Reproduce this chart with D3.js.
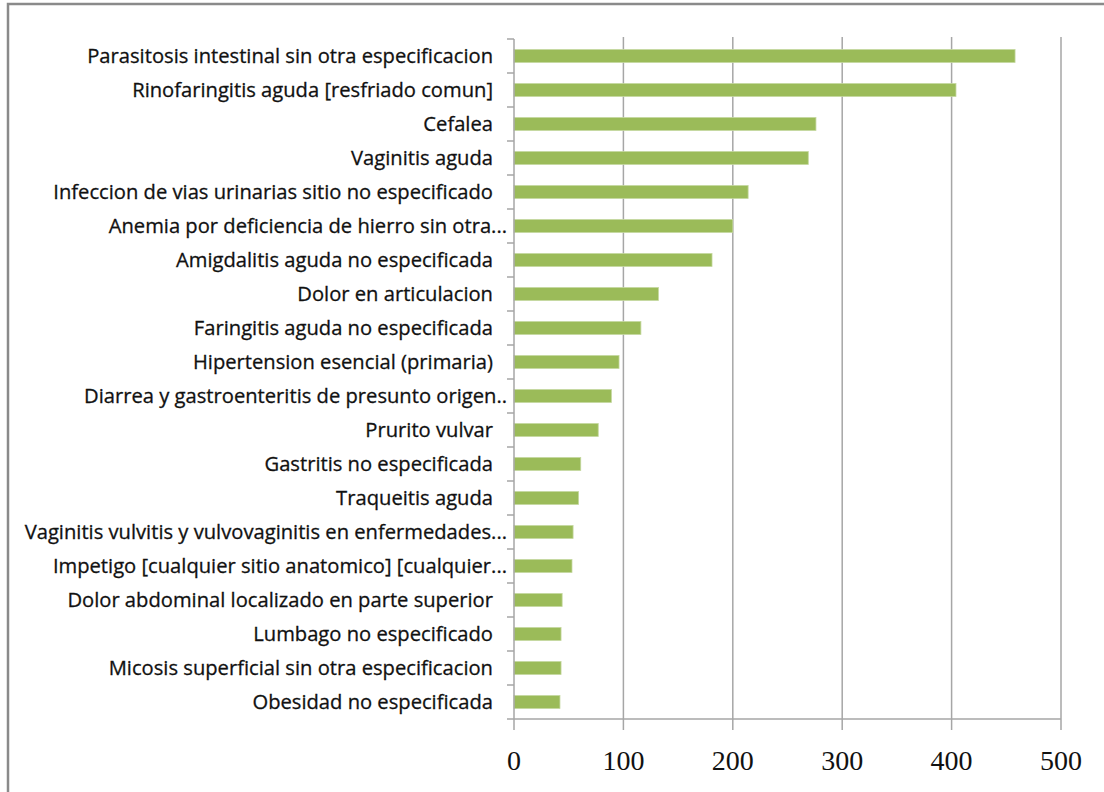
<!DOCTYPE html>
<html>
<head>
<meta charset="utf-8">
<script src="https://cdn.jsdelivr.net/npm/d3@7"></script>
<style>
  body { margin: 0; background: #fff; }
  svg { display: block; }
</style>
</head>
<body>
<div id="chart"></div>
<script>
const categories = [
  "Parasitosis intestinal sin otra especificacion",
  "Rinofaringitis aguda [resfriado comun]",
  "Cefalea",
  "Vaginitis aguda",
  "Infeccion de vias urinarias sitio no especificado",
  "Anemia por deficiencia de hierro sin otra...",
  "Amigdalitis aguda no especificada",
  "Dolor en articulacion",
  "Faringitis aguda no especificada",
  "Hipertension esencial (primaria)",
  "Diarrea y gastroenteritis de presunto origen..",
  "Prurito vulvar",
  "Gastritis no especificada",
  "Traqueitis aguda",
  "Vaginitis vulvitis y vulvovaginitis en enfermedades...",
  "Impetigo [cualquier sitio anatomico] [cualquier...",
  "Dolor abdominal localizado en parte superior",
  "Lumbago no especificado",
  "Micosis superficial sin otra especificacion",
  "Obesidad no especificada"
];

const values = [458, 404, 276, 269, 214, 200, 181, 132, 116, 96, 89, 77, 61, 59, 54, 53, 44, 43, 43, 42];

const xTicks = [0, 100, 200, 300, 400, 500];

const width = 1104, height = 792;
const margin = { top: 39, right: 43, bottom: 73, left: 514 };

const svg = d3.select("#chart").append("svg")
  .attr("width", width)
  .attr("height", height);

// outer frame
svg.append("rect")
  .attr("x", 8).attr("y", 4)
  .attr("width", width + 20).attr("height", height + 20)
  .attr("fill", "none")
  .attr("stroke", "#8a8a8a")
  .attr("stroke-width", 2.5);

const x = d3.scaleLinear()
  .domain([0, 500])
  .range([margin.left, width - margin.right]);

const y = d3.scaleBand()
  .domain(categories)
  .range([margin.top, height - margin.bottom]);

const gridColor = "#a6a6a6";

// vertical gridlines
svg.append("g")
  .selectAll("line")
  .data(xTicks.slice(1))
  .join("line")
    .attr("x1", d => x(d)).attr("x2", d => x(d))
    .attr("y1", margin.top - 2).attr("y2", height - margin.bottom)
    .attr("stroke", gridColor)
    .attr("stroke-width", 1.5);

// bars
const barH = y.bandwidth() * 0.38;
svg.append("g")
  .selectAll("rect")
  .data(values)
  .join("rect")
    .attr("x", x(0))
    .attr("y", (d, i) => y(categories[i]) + (y.bandwidth() - barH) / 2)
    .attr("width", d => x(d) - x(0))
    .attr("height", barH)
    .attr("fill", "#9bbb59")
    .attr("stroke", "#c4d79e")
    .attr("stroke-width", 0.8);

// category axis line and tick marks
const yAxis = svg.append("g");
yAxis.append("line")
  .attr("x1", x(0)).attr("x2", x(0))
  .attr("y1", margin.top).attr("y2", height - margin.bottom)
  .attr("stroke", gridColor).attr("stroke-width", 1.5);
yAxis.selectAll("line.tick")
  .data(categories.map(c => y(c)).concat([height - margin.bottom]))
  .join("line")
    .attr("class", "tick")
    .attr("x1", x(0) - 7).attr("x2", x(0))
    .attr("y1", d => d).attr("y2", d => d)
    .attr("stroke", gridColor).attr("stroke-width", 1.5);

// value axis
const xAxis = svg.append("g");
xAxis.append("line")
  .attr("x1", x(0)).attr("x2", x(500))
  .attr("y1", height - margin.bottom).attr("y2", height - margin.bottom)
  .attr("stroke", gridColor).attr("stroke-width", 1.5);
xAxis.selectAll("line.tick")
  .data(xTicks)
  .join("line")
    .attr("class", "tick")
    .attr("x1", d => x(d)).attr("x2", d => x(d))
    .attr("y1", height - margin.bottom).attr("y2", height - margin.bottom + 11)
    .attr("stroke", gridColor).attr("stroke-width", 1.5);
xAxis.selectAll("text")
  .data(xTicks)
  .join("text")
    .attr("x", d => x(d))
    .attr("y", 770)
    .attr("text-anchor", "middle")
    .attr("font-family", "'Liberation Serif', 'DejaVu Serif', serif")
    .attr("font-size", 28)
    .attr("fill", "#111")
    .text(d => d);

// category labels, squeezed to the width of the original narrow font
const labels = svg.append("g")
  .selectAll("text")
  .data(categories)
  .join("text")
    .attr("text-anchor", "end")
    .attr("font-family", "'Liberation Sans Narrow', 'Open Sans', sans-serif")
    .attr("font-size", 20.5)
    .attr("fill", "#111")
    .attr("stroke", "#111")
    .attr("stroke-width", 0.3)
    .text(d => d);

const firstWidth = labels.node().getComputedTextLength();
const k = 406 / firstWidth;

labels.attr("transform", d => {
  const right = d.endsWith(".") ? x(0) - 7 : x(0) - 21;
  const cy = y(d) + y.bandwidth() / 2 + 7;
  return `translate(${right},${cy}) scale(${k},1)`;
});
</script>
</body>
</html>
